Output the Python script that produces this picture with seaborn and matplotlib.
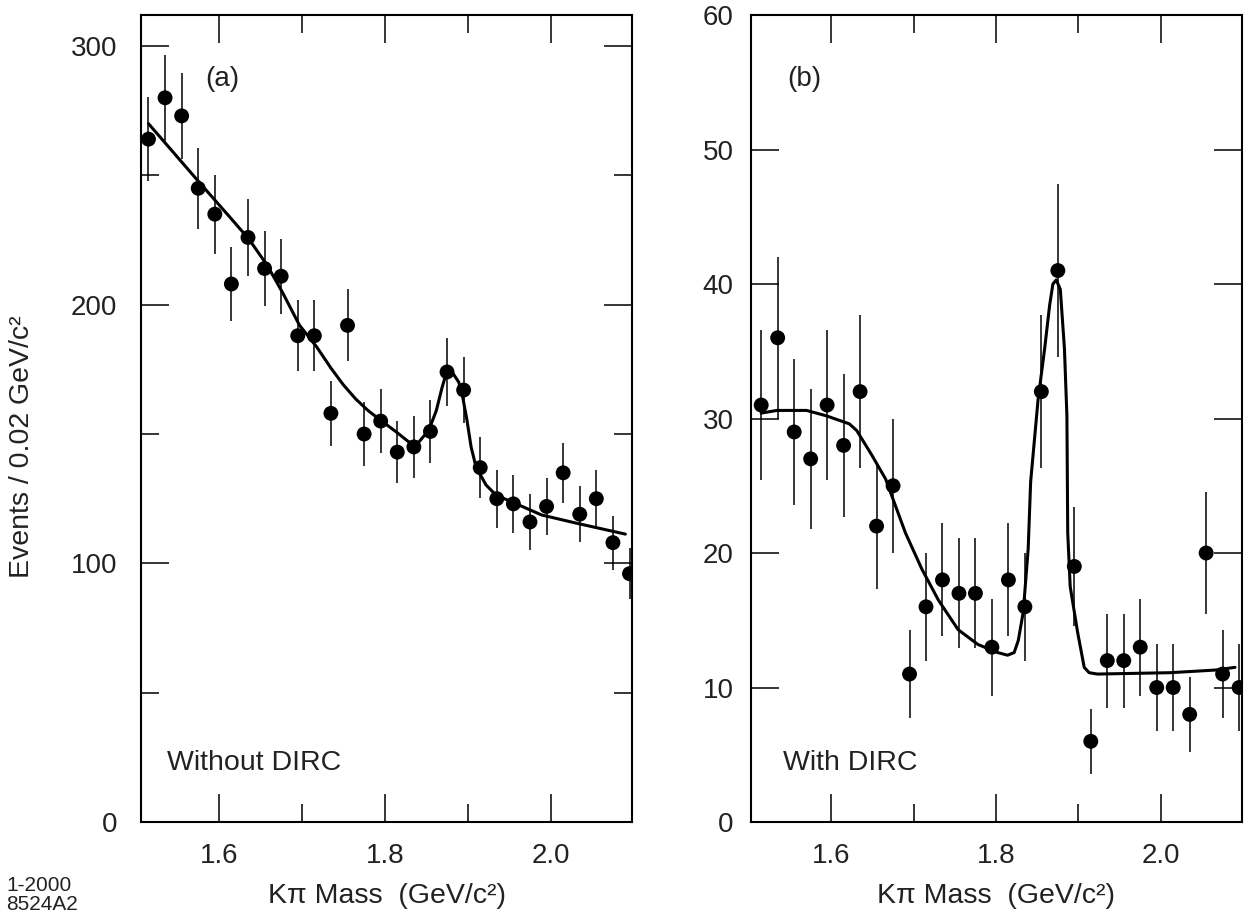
import numpy as np
import pandas as pd
import matplotlib
matplotlib.use("Agg")
import matplotlib.pyplot as plt
import seaborn as sns
from matplotlib.ticker import FixedLocator

# ---------------- data ----------------
mass = [1.515, 1.535, 1.555, 1.575, 1.595, 1.615, 1.635, 1.655, 1.675, 1.695,
        1.715, 1.735, 1.755, 1.775, 1.795, 1.815, 1.835, 1.855, 1.875, 1.895,
        1.915, 1.935, 1.955, 1.975, 1.995, 2.015, 2.035, 2.055, 2.075, 2.095]

counts_a = [264, 280, 273, 245, 235, 208, 226, 214, 211, 188,
            188, 158, 192, 150, 155, 143, 145, 151, 174, 167,
            137, 125, 123, 116, 122, 135, 119, 125, 108, 96]
err_a = [16.2, 16.7, 16.5, 15.7, 15.3, 14.4, 15.0, 14.6, 14.5, 13.7,
         13.7, 12.6, 13.9, 12.2, 12.4, 12.0, 12.0, 12.3, 13.2, 12.9,
         11.7, 11.2, 11.1, 10.8, 11.0, 11.6, 10.9, 11.2, 10.4, 9.8]

counts_b = [31, 36, 29, 27, 31, 28, 32, 22, 25, 11,
            16, 18, 17, 17, 13, 18, 16, 32, 41, 19,
            6, 12, 12, 13, 10, 10, 8, 20, 11, 10]
err_b = [5.6, 6.0, 5.4, 5.2, 5.6, 5.3, 5.7, 4.7, 5.0, 3.3,
         4.0, 4.2, 4.1, 4.1, 3.6, 4.2, 4.0, 5.7, 6.4, 4.4,
         2.4, 3.5, 3.5, 3.6, 3.2, 3.2, 2.8, 4.5, 3.3, 3.2]

# fit curves
fit_a_x = [1.515, 1.576, 1.613, 1.636, 1.658, 1.677, 1.697, 1.718, 1.735, 1.750,
           1.765, 1.780, 1.793, 1.815, 1.829, 1.841, 1.853, 1.862, 1.869, 1.875,
           1.881, 1.889, 1.893, 1.899, 1.904, 1.910, 1.922, 1.934, 1.962, 1.989,
           2.030, 2.090]
fit_a_y = [270, 247.4, 233.9, 225.4, 215.3, 204.5, 192.1, 183.6, 175.5, 169.0,
           163.5, 159.0, 155.8, 150.5, 146.9, 146.9, 151.5, 159.0, 168.0, 174.5,
           174.0, 170.1, 165.8, 155.4, 145.0, 137.2, 130.3, 126.4, 122.5, 118.7,
           115.6, 111.3]

fit_b_x = [1.515, 1.534, 1.570, 1.594, 1.622, 1.631, 1.649, 1.666, 1.690, 1.710,
           1.730, 1.754, 1.778, 1.802, 1.814, 1.822, 1.827, 1.833, 1.839, 1.842,
           1.851, 1.859, 1.865, 1.869, 1.873, 1.878, 1.883, 1.886, 1.887, 1.890,
           1.899, 1.907, 1.913, 1.923, 2.011, 2.067, 2.090]
fit_b_y = [30.4, 30.6, 30.6, 30.2, 29.6, 29.1, 27.3, 25.5, 21.5, 18.8,
           16.5, 14.3, 13.2, 12.6, 12.4, 12.6, 13.5, 15.6, 20.3, 25.3,
           31.4, 35.2, 38.4, 40.0, 40.3, 39.6, 35.2, 30.2, 21.5, 17.5,
           14.1, 11.5, 11.1, 11.0, 11.1, 11.3, 11.5]

# ---------------- style ----------------
sns.set_theme(style="ticks")
plt.rcParams['font.family'] = ['Liberation Sans', 'DejaVu Sans']
plt.rcParams['axes.linewidth'] = 1.5
plt.rcParams['text.color'] = '#222222'

fig = plt.figure(figsize=(12.46, 9.15), dpi=100)
ax_a = fig.add_axes([141/1246, 1-822/915, 491/1246, 807/915])
ax_b = fig.add_axes([750.5/1246, 1-822/915, 491.5/1246, 807/915])

df_a = pd.DataFrame({'mass': mass, 'events': counts_a, 'err': err_a})
df_b = pd.DataFrame({'mass': mass, 'events': counts_b, 'err': err_b})
fa = pd.DataFrame({'mass': fit_a_x, 'events': fit_a_y})
fb = pd.DataFrame({'mass': fit_b_x, 'events': fit_b_y})

for ax, df, fit in [(ax_a, df_a, fa), (ax_b, df_b, fb)]:
    ax.errorbar(df['mass'], df['events'], yerr=df['err'], fmt='none',
                ecolor='black', elinewidth=1.1, capsize=0, zorder=2)
    sns.lineplot(data=fit, x='mass', y='events', ax=ax, color='black',
                 linewidth=2.2, sort=False, estimator=None, zorder=3)
    sns.scatterplot(data=df, x='mass', y='events', ax=ax, color='black',
                    s=115, edgecolor='none', linewidth=0, zorder=4)
    ax.set_xlabel('')
    ax.set_ylabel('')
    for sp in ax.spines.values():
        sp.set_visible(True)
        sp.set_linewidth(1.5)
        sp.set_color('black')
    ax.xaxis.set_major_locator(FixedLocator([1.6, 1.8, 2.0]))
    ax.xaxis.set_minor_locator(FixedLocator([1.7, 1.9]))
    ax.set_xticklabels(['1.6', '1.8', '2.0'])
    ax.tick_params(which='both', direction='in', top=True, right=True,
                   labeltop=False, labelright=False, color='black', width=1.1)
    ax.tick_params(which='major', length=20, labelsize=20, labelcolor='#222222')
    ax.tick_params(which='minor', length=13)
    ax.tick_params(axis='x', which='major', pad=15)
    ax.set_xlabel('K\u03c0 Mass  (GeV/c\u00b2)', fontsize=20.5, color='#222222')
    ax.xaxis.set_label_coords(0.5, -0.076)

ax_a.set_xlim(1.506, 2.098)
ax_a.set_ylim(0, 312)
ax_a.yaxis.set_major_locator(FixedLocator([0, 100, 200, 300]))
ax_a.yaxis.set_minor_locator(FixedLocator([50, 150, 250]))
ax_a.set_yticklabels(['0', '100', '200', '300'])
ax_a.tick_params(axis='y', which='major', pad=17)

ax_b.set_xlim(1.502, 2.0985)
ax_b.set_ylim(0, 60)
ax_b.yaxis.set_major_locator(FixedLocator([0, 10, 20, 30, 40, 50, 60]))
ax_b.set_yticklabels(['0', '10', '20', '30', '40', '50', '60'])
ax_b.tick_params(axis='y', which='major', pad=12)

ax_a.set_ylabel('Events / 0.02 GeV/c\u00b2', fontsize=20.5, color='#222222')
ax_a.yaxis.set_label_coords(-0.215, 0.465)

ax_a.text(0.130, 0.921, '(a)', transform=ax_a.transAxes, fontsize=20,
          ha='left', va='center')
ax_b.text(0.074, 0.921, '(b)', transform=ax_b.transAxes, fontsize=20,
          ha='left', va='center')
ax_a.text(0.053, 0.073, 'Without DIRC', transform=ax_a.transAxes, fontsize=20.5,
          ha='left', va='center')
ax_b.text(0.066, 0.073, 'With DIRC', transform=ax_b.transAxes, fontsize=20.5,
          ha='left', va='center')

fig.text(6/1246, 1-876/915, '1-2000\n8524A2', fontsize=15, ha='left', va='top',
         linespacing=1.0, color='#222222')

fig.savefig('out.png', dpi=100)
